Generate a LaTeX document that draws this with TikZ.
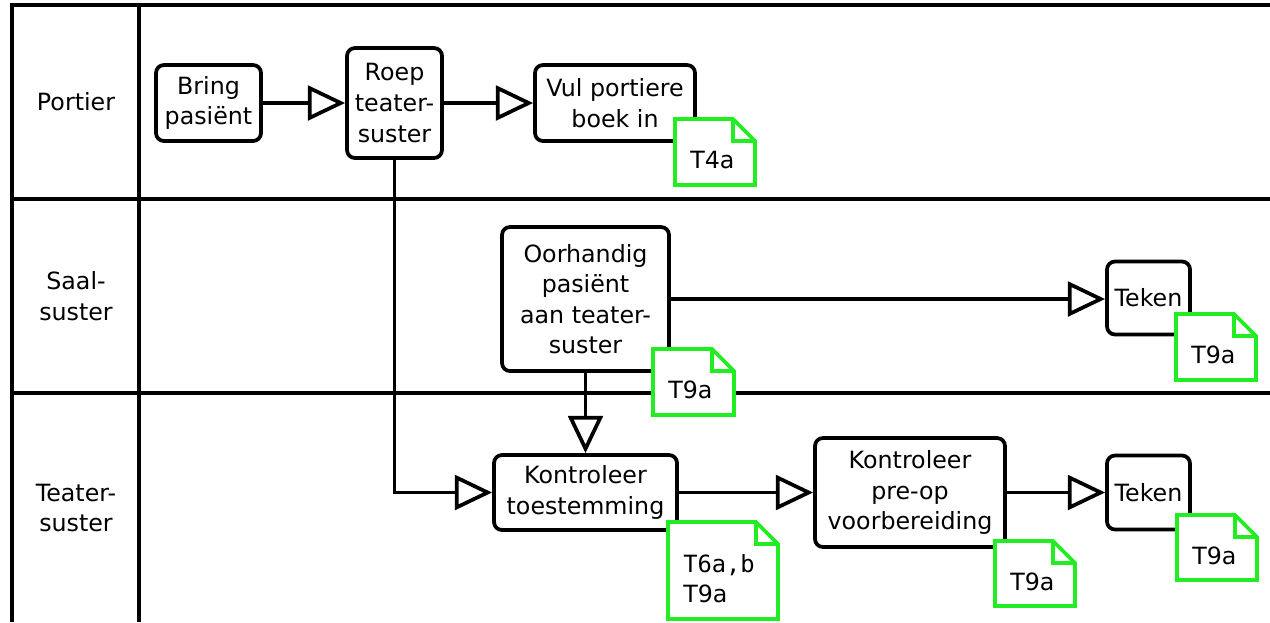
\documentclass[tikz,border=0pt]{standalone}
\usepackage{fontspec}
\setmainfont{DejaVu Sans}
\newfontfamily\notemono{DejaVu Sans Mono}
\usetikzlibrary{arrows.meta}
\definecolor{notegreen}{RGB}{34,236,34}

% green document note with a folded top-right corner: name, x, y, width, height, text
\newcommand\notedoc[6]{%
  \filldraw[noteline] (#2,#3) -- ++(#4-22,0) -- ++(22,22) -- ++(0,#5-22) -- ++(-#4,0) -- cycle;
  \draw[noteline, fill=none] (#2+#4-22,#3) |- (#2+#4,#3+22);
  \node[notetext] (#1) at (#2+15,#3+#5/2+8) {#6};
}

\begin{document}
\begin{tikzpicture}[x=0.75pt, y=-0.75pt,
  every node/.style={font=\fontsize{17.8pt}{22.9pt}\selectfont},
  lane/.style={line width=2.5pt},
  lanelabel/.style={align=center, inner sep=0pt},
  task/.style={draw, line width=2.8pt, rounded corners=6pt, align=center, inner sep=0pt, fill=white},
  flow/.style={line width=2.8pt, -{Triangle[open, length=28pt, width=26pt]}},
  noteline/.style={draw=notegreen, line width=2.7pt, fill=white},
  notetext/.style={align=left, inner sep=0pt, anchor=west},
]
\useasboundingbox (0,0) rectangle (1270,622);

% swimlane frame
\draw[lane] (1270,5) -- (12,5) -- (12,622);
\draw[lane] (139,5) -- (139,622);
\draw[lane] (12,199) -- (1270,199);
\draw[lane] (12,393) -- (1270,393);

\node[lanelabel] (lportier) at (76,102) {Portier};
\node[lanelabel] (lsaal) at (76,296) {Saal-\\suster};
\node[lanelabel] (lteater) at (76,508) {Teater-\\suster};

% tasks
\node[task, minimum width={105*0.75pt}, minimum height={76*0.75pt}] (bring) at (208.5,103) {Bring\\pasiënt};
\node[task, minimum width={95*0.75pt}, minimum height={110*0.75pt}] (roep) at (394.5,103) {Roep\\teater-\\suster};
\node[task, minimum width={160*0.75pt}, minimum height={76*0.75pt}] (vul) at (615,103) {Vul portiere\\boek in};
\node[task, minimum width={167*0.75pt}, minimum height={144*0.75pt}] (oorhandig) at (585.5,299) {Oorhandig\\pasiënt\\aan teater-\\suster};
\node[task, minimum width={83*0.75pt}, minimum height={73*0.75pt}] (teken1) at (1148.5,298) {Teken};
\node[task, minimum width={183*0.75pt}, minimum height={75*0.75pt}] (kontroleer) at (585.5,492.5) {Kontroleer\\toestemming};
\node[task, minimum width={190*0.75pt}, minimum height={109*0.75pt}] (preop) at (910,492.5) {Kontroleer\\pre-op\\voorbereiding};
\node[task, minimum width={83*0.75pt}, minimum height={74*0.75pt}] (teken2) at (1148.5,492.5) {Teken};

% flows
\draw[flow] (bring) -- (roep);
\draw[flow] (roep) -- (vul);
\draw[flow] (roep.south) |- (kontroleer.west);
\draw[flow] (oorhandig.east) -- (oorhandig.east -| teken1.west);
\draw[flow] (oorhandig.south) -- (kontroleer.north);
\draw[flow] (kontroleer) -- (preop);
\draw[flow] (preop.east) -- (preop.east -| teken2.west);

% document notes
\notedoc{n1}{675}{119}{80}{66}{T4a}
\notedoc{n2}{653}{349}{81}{66}{T9a}
\notedoc{n3}{1176}{314}{80}{66}{T9a}
\notedoc{n4}{668}{522}{110}{97}{{\notemono T6a,b}\\T9a}
\notedoc{n5}{995}{541}{80}{65}{T9a}
\notedoc{n6}{1177}{515}{80}{65}{T9a}
\end{tikzpicture}
\end{document}
